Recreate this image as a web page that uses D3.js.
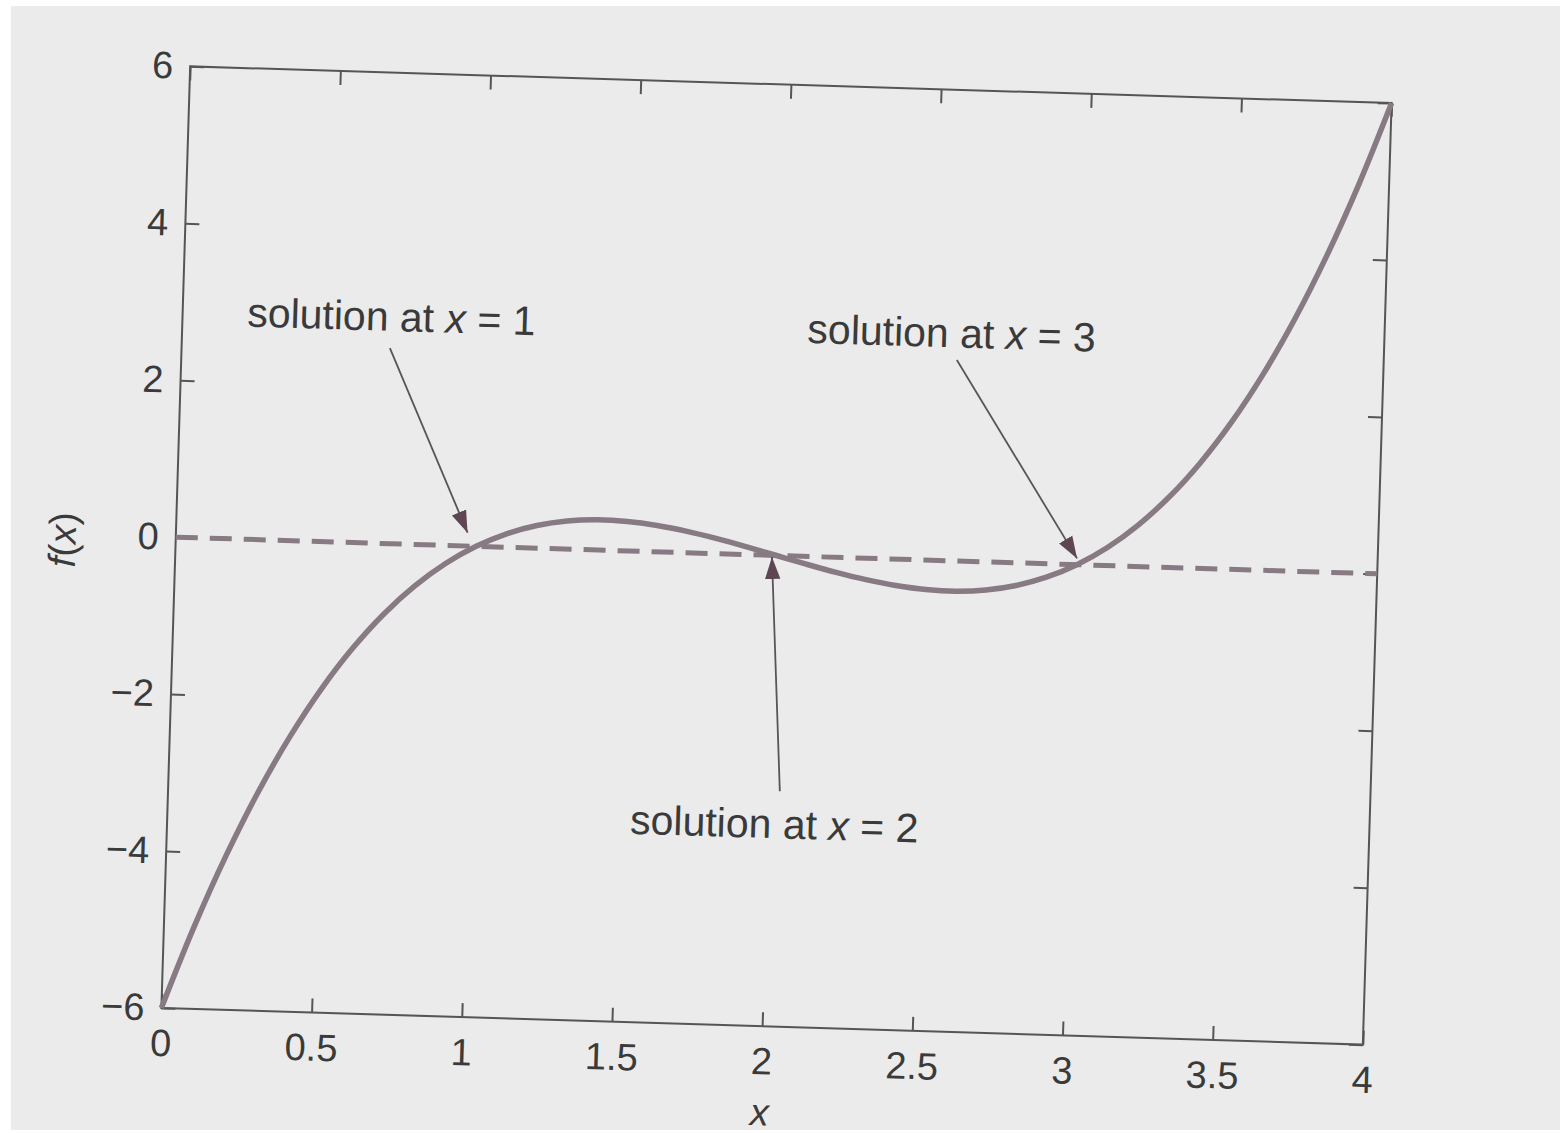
<!DOCTYPE html>
<html>
<head>
<meta charset="utf-8">
<script src="https://cdn.jsdelivr.net/npm/d3@7"></script>
<style>
  html, body { margin: 0; padding: 0; background: #ffffff; }
  svg { display: block; }
  text { font-family: "Liberation Sans", Arial, Helvetica, sans-serif; fill: #3a3a3a; }
</style>
</head>
<body>
<svg id="chart" width="1560" height="1133"></svg>
<script>
// Cubic f(x) sampled every 0.1 on [0, 4]
const xValues = [0.0, 0.1, 0.2, 0.3, 0.4, 0.5, 0.6, 0.7, 0.8, 0.9,
                 1.0, 1.1, 1.2, 1.3, 1.4, 1.5, 1.6, 1.7, 1.8, 1.9,
                 2.0, 2.1, 2.2, 2.3, 2.4, 2.5, 2.6, 2.7, 2.8, 2.9,
                 3.0, 3.1, 3.2, 3.3, 3.4, 3.5, 3.6, 3.7, 3.8, 3.9, 4.0];
const fValues = [-6.000, -4.959, -4.032, -3.213, -2.496, -1.875, -1.344, -0.897, -0.528, -0.231,
                  0.000,  0.171,  0.288,  0.357,  0.384,  0.375,  0.336,  0.273,  0.192,  0.099,
                  0.000, -0.099, -0.192, -0.273, -0.336, -0.375, -0.384, -0.357, -0.288, -0.171,
                  0.000,  0.231,  0.528,  0.897,  1.344,  1.875,  2.496,  3.213,  4.032,  4.959, 6.000];

// Zero reference line
const zeroLineX = [0, 4];
const zeroLineY = [0, 0];

// Tick values
const xTicks = [0, 0.5, 1, 1.5, 2, 2.5, 3, 3.5, 4];
const yTicks = [-6, -4, -2, 0, 2, 4, 6];

// Annotations: label position, arrow tail and arrow tip in data units
const noteLabels = ["solution at x = 1", "solution at x = 2", "solution at x = 3"];
const noteRoot   = ["1", "2", "3"];
const noteTextX  = [0.695, 2.02, 2.56];
const noteTextY  = [2.71, -3.60, 2.72];
const noteTailX  = [0.693, 2.035, 2.58];
const noteTailY  = [2.49, -3.00, 2.56];
const noteTipX   = [0.970, 1.985, 3.00];
const noteTipY   = [0.170, -0.02, 0.08];

const W = 1202, H = 942;
const svg = d3.select("#chart");

// page background
svg.append("rect").attr("width", 1560).attr("height", 1133).attr("fill", "#ffffff");
svg.append("rect").attr("x", 11).attr("y", 6).attr("width", 1549).attr("height", 1124).attr("fill", "#ebebeb");

// the printed figure sits slightly tilted on the page
const g = svg.append("g")
  .attr("transform", `translate(776.5,555.5) rotate(1.75) translate(${-W / 2},${-H / 2})`);

const x = d3.scaleLinear().domain([0, 4]).range([0, W]);
const y = d3.scaleLinear().domain([-6, 6]).range([H, 0]);

const axisColor = "#555555";
const fontSize = 38;
const noteFontSize = 41;

// axes with inward ticks on all four sides
const tickLen = 14;
const axisBottomG = g.append("g").attr("transform", `translate(0,${H})`)
  .call(d3.axisBottom(x).tickValues(xTicks).tickSizeInner(-tickLen).tickSizeOuter(0).tickPadding(36)
    .tickFormat(d => d3.format("")(d)));
const axisTopG = g.append("g")
  .call(d3.axisTop(x).tickValues(xTicks).tickSizeInner(-tickLen).tickSizeOuter(0).tickFormat(""));
const axisLeftG = g.append("g")
  .call(d3.axisLeft(y).tickValues(yTicks).tickSizeInner(-tickLen).tickSizeOuter(0).tickPadding(17)
    .tickFormat(d => (d < 0 ? "\u2212" + Math.abs(d) : String(d))));
const axisRightG = g.append("g").attr("transform", `translate(${W},0)`)
  .call(d3.axisRight(y).tickValues(yTicks).tickSizeInner(-tickLen).tickSizeOuter(0).tickFormat(""));

[axisBottomG, axisTopG, axisLeftG, axisRightG].forEach(a => {
  a.select(".domain").remove();
  a.selectAll(".tick line").attr("stroke", axisColor).attr("stroke-width", 2);
  a.selectAll(".tick text").attr("font-size", fontSize).attr("fill", "#3a3a3a")
    .style("font-family", "'Liberation Sans', Arial, sans-serif");
});
axisBottomG.selectAll(".tick text").attr("dy", "0.32em");

// plot frame
g.append("rect").attr("x", 0).attr("y", 0).attr("width", W).attr("height", H)
  .attr("fill", "none").attr("stroke", axisColor).attr("stroke-width", 2);

// axis titles
g.append("text")
  .attr("x", x(2)).attr("y", H + 99)
  .attr("text-anchor", "middle").attr("font-size", fontSize).attr("font-style", "italic")
  .text("x");
g.append("text")
  .attr("transform", `translate(-100,${y(0) + 6}) rotate(-90)`)
  .attr("text-anchor", "middle").attr("font-size", fontSize)
  .call(t => {
    t.append("tspan").attr("font-style", "italic").text("f");
    t.append("tspan").text("(");
    t.append("tspan").attr("font-style", "italic").text("x");
    t.append("tspan").text(")");
  });

const curveColor = "#877a82";
const line = d3.line().x(d => x(d[0])).y(d => y(d[1]));

// dashed zero line
g.append("path")
  .datum(zeroLineX.map((v, i) => [v, zeroLineY[i]]))
  .attr("d", line)
  .attr("fill", "none").attr("stroke", curveColor).attr("stroke-width", 5)
  .attr("stroke-dasharray", "22,12");

// f(x)
g.append("path")
  .datum(xValues.map((v, i) => [v, fValues[i]]))
  .attr("d", line.curve(d3.curveCatmullRom))
  .attr("fill", "none").attr("stroke", curveColor).attr("stroke-width", 5.5)
  .attr("stroke-linejoin", "round");

// annotation arrows
const defs = svg.append("defs");
defs.append("marker")
  .attr("id", "arrowhead")
  .attr("viewBox", "0 0 10 10").attr("refX", 10).attr("refY", 5)
  .attr("markerWidth", 22).attr("markerHeight", 22)
  .attr("markerUnits", "userSpaceOnUse")
  .attr("orient", "auto")
  .append("path").attr("d", "M0,1.5 L10,5 L0,8.5 Z").attr("fill", "#5e4753");

noteLabels.forEach((label, i) => {
  g.append("line")
    .attr("x1", x(noteTailX[i])).attr("y1", y(noteTailY[i]))
    .attr("x2", x(noteTipX[i])).attr("y2", y(noteTipY[i]))
    .attr("stroke", "#5a5458").attr("stroke-width", 1.8)
    .attr("marker-end", "url(#arrowhead)");

  const t = g.append("text")
    .attr("x", x(noteTextX[i])).attr("y", y(noteTextY[i]))
    .attr("text-anchor", "middle").attr("font-size", noteFontSize);
  t.append("tspan").text("solution at ");
  t.append("tspan").attr("font-style", "italic").text("x");
  t.append("tspan").text(" = " + noteRoot[i]);
});
</script>
</body>
</html>
